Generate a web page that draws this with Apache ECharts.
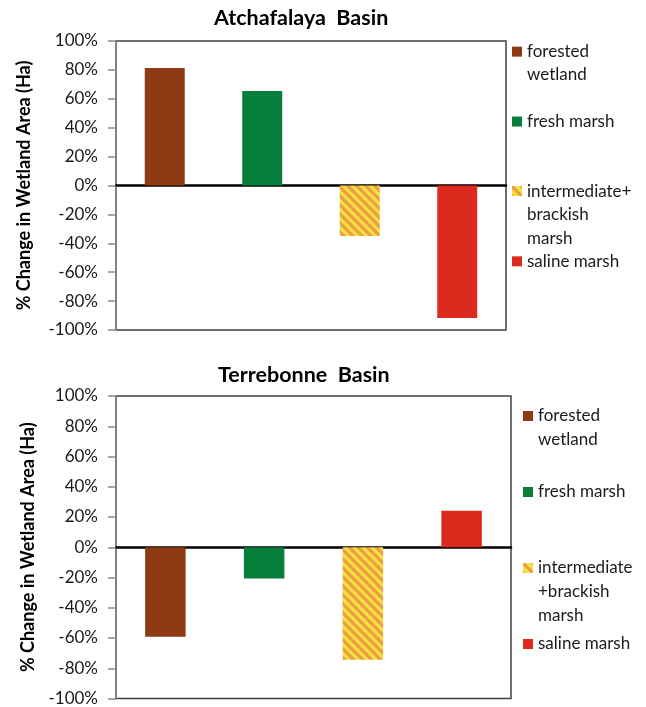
<!DOCTYPE html>
<html><head><meta charset="utf-8">
<script src="https://cdn.jsdelivr.net/npm/echarts@6/dist/echarts.min.js"></script>
<style>html,body{margin:0;padding:0;background:#fff}#c{width:646px;height:707px}</style>
</head><body><div id="c"></div>
<script>
// ---- data ----
const categories = ['forested wetland', 'fresh marsh', 'intermediate+brackish marsh', 'saline marsh'];
const atchafalayaValues = [81.3, 65.4, -34.9, -91.7];
const terrebonneValues = [-59.2, -20.6, -74.3, 24.1];
const atchafalayaLegend = ['forested\nwetland', 'fresh marsh', 'intermediate+\nbrackish\nmarsh', 'saline marsh'];
const terrebonneLegend = ['forested\nwetland', 'fresh marsh', 'intermediate\n+brackish\nmarsh', 'saline marsh'];
const chartTitles = ['Atchafalaya  Basin', 'Terrebonne  Basin'];
const yAxisName = '% Change in Wetland Area (Ha)';
const yMin = -100, yMax = 100, yStep = 20;

// ---- styles ----
const FONT = 'Lato';
function stripeCanvas(size, w) {
  const c = document.createElement('canvas');
  c.width = size; c.height = size;
  const g = c.getContext('2d');
  g.fillStyle = '#F5E23C';
  g.fillRect(0, 0, size, size);
  g.strokeStyle = '#EE9C48';
  g.lineWidth = w;
  for (let k = -2; k <= 2; k++) {
    g.beginPath();
    g.moveTo(k * size - size, -size);
    g.lineTo(k * size + 2 * size, 2 * size);
    g.stroke();
  }
  return c;
}
const barPattern = stripeCanvas(9, 3.2);
const iconPattern = stripeCanvas(10, 3.2);
const fills = ['#8E3A14', '#077F3B', { image: barPattern, repeat: 'repeat' }, '#DC2A1E'];
const iconFills = ['#8E3A14', '#077F3B', { image: iconPattern }, '#DC2A1E'];

function makeSeries(values, labels, idx) {
  return values.map((v, i) => ({
    name: labels[i],
    type: 'bar',
    xAxisIndex: idx, yAxisIndex: idx,
    stack: 'basin' + idx,
    barWidth: '41%',
    data: values.map((w, j) => (j === i ? w : '-')),
    itemStyle: { color: fills[i] },
    emphasis: { disabled: true },
    silent: true
  }));
}

function makeLegend(labels, left, top, lineH, gap) {
  const rich = {
    t: { fontFamily: FONT, fontSize: 17, color: '#1a1a1a', lineHeight: lineH, padding: [0, 0, 0, 5] },
    s: { width: 10, lineHeight: lineH }
  };
  iconFills.forEach((f, i) => { rich['k' + i] = { width: 10, height: 10, backgroundColor: f }; });
  return {
    orient: 'vertical', left: left, top: top, padding: 0, itemGap: gap,
    itemWidth: 0, itemHeight: 0, selectedMode: false,
    data: labels,
    textStyle: { fontFamily: FONT, fontSize: 17, lineHeight: lineH, rich: rich },
    formatter: name => {
      const i = labels.indexOf(name);
      const lines = name.split('\n');
      while (lines.length < 3) lines.push(' ');
      return lines.map((l, j) => (j === 0 ? '{k' + i + '|}{t|' + l + '}' : '{s|}{t|' + l + '}')).join('\n');
    }
  };
}

function makeYAxis(idx, gap) {
  return {
    type: 'value', gridIndex: idx, min: yMin, max: yMax, interval: yStep,
    name: yAxisName, nameLocation: 'middle', nameGap: gap,
    nameTextStyle: { fontFamily: FONT, fontSize: 18, fontWeight: 'bold', color: '#000' },
    axisLine: { show: true, lineStyle: { color: '#8a8a8a', width: 1.5 } },
    axisTick: { show: true, length: 8, lineStyle: { color: '#8a8a8a', width: 1.5 } },
    axisLabel: { formatter: '{value}%', fontFamily: FONT, fontSize: 17, color: '#1a1a1a', margin: 18 },
    splitLine: { show: false }
  };
}
function makeXAxis(idx) {
  return {
    type: 'category', gridIndex: idx, data: categories,
    axisLine: { onZero: true, lineStyle: { color: '#000', width: 2.5 } },
    axisTick: { show: false }, axisLabel: { show: false }
  };
}

const titleStyle = { fontFamily: FONT, fontSize: 21.5, fontWeight: 'bold', color: '#000' };
const chart = echarts.init(document.getElementById('c'), null, { renderer: 'canvas' });
chart.setOption({
  animation: false,
  backgroundColor: '#fff',
  title: [
    { text: chartTitles[0], left: 214, top: 7, padding: 0, textStyle: titleStyle },
    { text: chartTitles[1], left: 218, top: 364, padding: 0, textStyle: titleStyle }
  ],
  legend: [
    makeLegend(atchafalayaLegend, 507, 40, 23.3, 0),
    makeLegend(terrebonneLegend, 518, 404, 24, 4)
  ],
  grid: [
    { left: 116, top: 41, width: 390, height: 289, show: true, borderColor: '#404040', borderWidth: 1.5, backgroundColor: 'transparent' },
    { left: 116, top: 396, width: 395, height: 304, show: true, borderColor: '#404040', borderWidth: 1.5, backgroundColor: 'transparent' }
  ],
  xAxis: [makeXAxis(0), makeXAxis(1)],
  yAxis: [makeYAxis(0, 83), makeYAxis(1, 78)],
  series: makeSeries(atchafalayaValues, atchafalayaLegend, 0).concat(makeSeries(terrebonneValues, terrebonneLegend, 1))
});
</script></body></html>
